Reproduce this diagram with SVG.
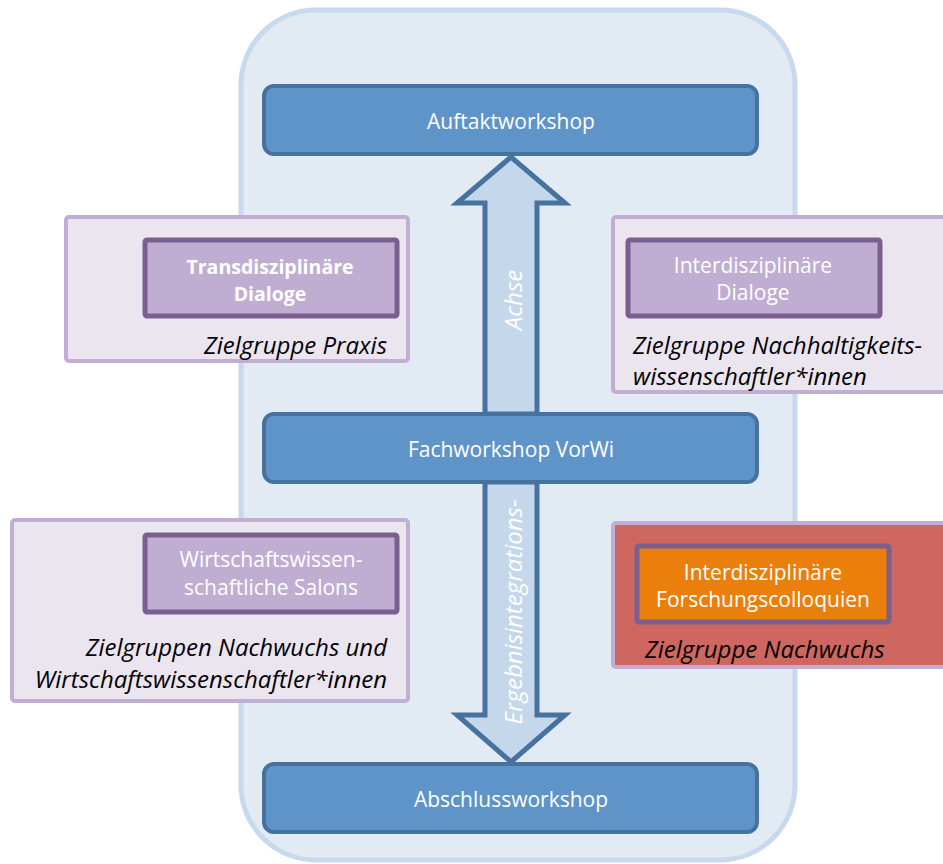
<svg xmlns="http://www.w3.org/2000/svg" width="943" height="864" viewBox="0 0 943 864">
<style>
.ws{fill:#5f94c8;stroke:#46729f;stroke-width:4}
.wst{font-family:"Open Sans","Liberation Sans",sans-serif;font-size:21px;fill:#ffffff;text-anchor:middle;dominant-baseline:central}
.outer{fill:#ebe5f0;stroke:#c1afd3;stroke-width:4}
.inner{fill:#bfaed2;stroke:#7a5f91;stroke-width:5}
.it{font-family:"Open Sans","Liberation Sans",sans-serif;font-size:21px;fill:#ffffff;text-anchor:middle}
.itb{font-family:"Open Sans","Liberation Sans",sans-serif;font-size:19.5px;font-weight:bold;fill:#ffffff;text-anchor:middle}
.lab{font-family:"Open Sans","Liberation Sans",sans-serif;font-size:24px;font-style:italic;fill:#000000}
.arr{fill:#c5d7eb;stroke:#46729f;stroke-width:5;stroke-linejoin:miter}
.at{font-family:"Open Sans","Liberation Sans",sans-serif;font-size:24px;font-style:italic;fill:#ffffff;text-anchor:middle;dominant-baseline:central}
</style>
<rect id="background" x="241" y="10" width="554" height="850" rx="75" ry="75" fill="#e2eaf4" stroke="#c7d9ec" stroke-width="5"/>

<g id="transdisziplinaer">
<rect class="outer" x="66" y="217" width="342" height="144" rx="3"/>
<rect class="inner" x="145" y="240" width="252" height="76" rx="2"/>
<text class="itb" x="270" y="274">Transdisziplinäre</text>
<text class="itb" x="270" y="301">Dialoge</text>
<text class="lab" x="387" y="354" text-anchor="end">Zielgruppe Praxis</text>
</g>

<g id="interdisziplinaer">
<rect class="outer" x="613" y="217" width="336" height="175" rx="3"/>
<rect class="inner" x="628" y="240" width="252" height="76" rx="2"/>
<text class="it" x="753" y="273">Interdisziplinäre</text>
<text class="it" x="753" y="300">Dialoge</text>
<text class="lab" x="633" y="354">Zielgruppe Nachhaltigkeits-</text>
<text class="lab" x="633" y="385">wissenschaftler*innen</text>
</g>

<g id="salons">
<rect class="outer" x="12" y="520" width="396" height="181" rx="3"/>
<rect class="inner" x="145" y="535" width="252" height="77" rx="2"/>
<text class="it" x="271" y="567">Wirtschaftswissen-</text>
<text class="it" x="271" y="595">schaftliche Salons</text>
<text class="lab" x="387" y="656" text-anchor="end">Zielgruppen Nachwuchs und</text>
<text class="lab" x="387" y="688" text-anchor="end">Wirtschaftswissenschaftler*innen</text>
</g>

<g id="colloquien">
<rect x="613" y="523" width="336" height="144" rx="3" fill="#cd675f" stroke="#c1afd3" stroke-width="4"/>
<rect x="637" y="546" width="252" height="76" rx="2" fill="#eb7f0b" stroke="#7a5f91" stroke-width="5"/>
<text class="it" x="763" y="580">Interdisziplinäre</text>
<text class="it" x="763" y="607">Forschungscolloquien</text>
<text class="lab" x="645" y="658">Zielgruppe Nachwuchs</text>
</g>

<g id="connectors">
<polygon class="arr" points="511,157 457,203 485,203 485,414 537,414 537,203 565,203"/>
<text class="at" transform="translate(512,300) rotate(-90)">Achse</text>
<polygon class="arr" points="485,482 537,482 537,715 565,715 511,762 457,715 485,715"/>
<text class="at" transform="translate(512,612) rotate(-90)">Ergebnisintegrations-</text>
</g>

<g id="auftakt">
<rect class="ws" x="264" y="86" width="493" height="68" rx="10"/>
<text class="wst" x="511" y="121">Auftaktworkshop</text>
</g>
<g id="fachworkshop">
<rect class="ws" x="264" y="414" width="493" height="68" rx="10"/>
<text class="wst" x="511" y="449">Fachworkshop VorWi</text>
</g>
<g id="abschluss">
<rect class="ws" x="264" y="764" width="493" height="68" rx="10"/>
<text class="wst" x="511" y="799">Abschlussworkshop</text>
</g>
</svg>
